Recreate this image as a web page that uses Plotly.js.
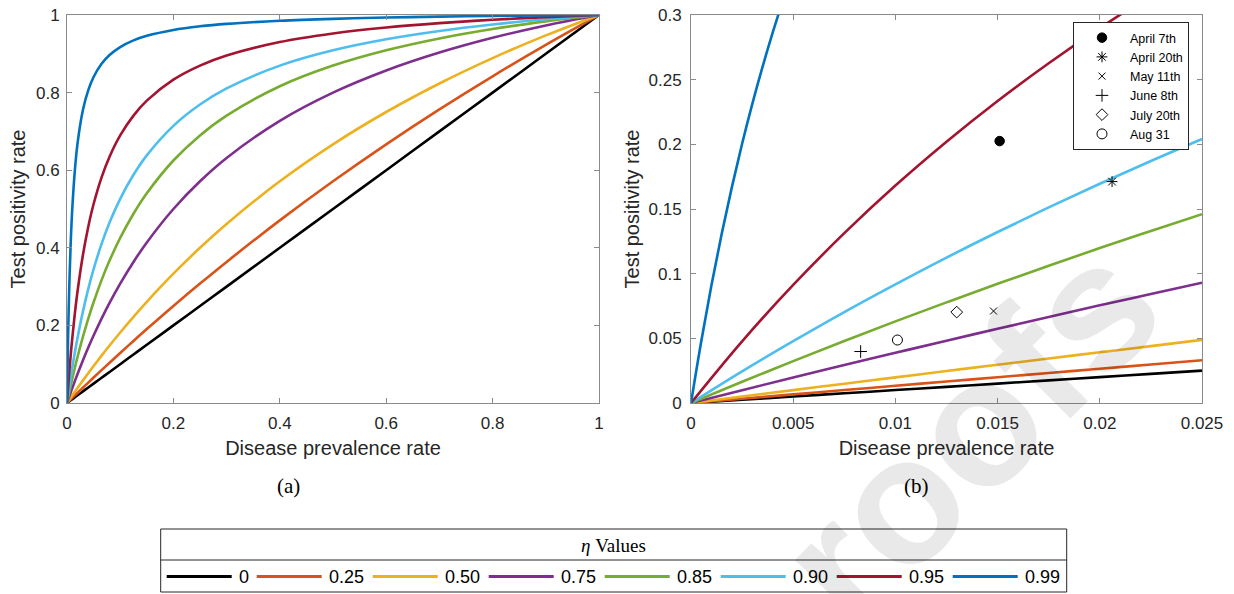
<!DOCTYPE html>
<html><head><meta charset="utf-8">
<script src="https://cdn.plot.ly/plotly-3.0.1.min.js"></script>
<style>html,body{margin:0;padding:0;background:#fff}#chart{width:1234px;height:594px}</style>
</head><body><div id="chart"></div>
<script>
// ---------- data ----------
const etaLabels = ['0', '0.25', '0.50', '0.75', '0.85', '0.90', '0.95', '0.99'];
const etaColors = ['#000000', '#D95319', '#EDB120', '#7E2F8E', '#77AC30', '#4DBEEE', '#A2142F', '#0072BD'];

// panel (a): prevalence 0..1
const prevA = [0, 0.002, 0.004, 0.007, 0.01, 0.015, 0.02, 0.03, 0.04, 0.05, 0.065, 0.08, 0.1, 0.125, 0.15, 0.2, 0.25, 0.3, 0.4, 0.5, 0.6, 0.7, 0.8, 0.9, 1];
const tprA_000 = [0, 0.002, 0.004, 0.007, 0.01, 0.015, 0.02, 0.03, 0.04, 0.05, 0.065, 0.08, 0.1, 0.125, 0.15, 0.2, 0.25, 0.3, 0.4, 0.5, 0.6, 0.7, 0.8, 0.9, 1];
const tprA_025 = [0, 0.0027, 0.0053, 0.0093, 0.0133, 0.0199, 0.0265, 0.0396, 0.0526, 0.0656, 0.0848, 0.1039, 0.129, 0.16, 0.1905, 0.25, 0.3077, 0.3636, 0.4706, 0.5714, 0.6667, 0.7568, 0.8421, 0.9231, 1];
const tprA_050 = [0, 0.004, 0.008, 0.0139, 0.0198, 0.0296, 0.0392, 0.0583, 0.0769, 0.0952, 0.1221, 0.1481, 0.1818, 0.2222, 0.2609, 0.3333, 0.4, 0.4615, 0.5714, 0.6667, 0.75, 0.8235, 0.8889, 0.9474, 1];
const tprA_075 = [0, 0.008, 0.0158, 0.0274, 0.0388, 0.0574, 0.0755, 0.1101, 0.1429, 0.1739, 0.2176, 0.2581, 0.3077, 0.3636, 0.4138, 0.5, 0.5714, 0.6316, 0.7273, 0.8, 0.8571, 0.9032, 0.9412, 0.973, 1];
const tprA_085 = [0, 0.0132, 0.0261, 0.0449, 0.0631, 0.0922, 0.1198, 0.1709, 0.2174, 0.2597, 0.3167, 0.367, 0.4255, 0.4878, 0.5405, 0.625, 0.6897, 0.7407, 0.8163, 0.8696, 0.9091, 0.9396, 0.9639, 0.9836, 1];
const tprA_090 = [0, 0.0197, 0.0386, 0.0659, 0.0917, 0.1322, 0.1695, 0.2362, 0.2941, 0.3448, 0.4101, 0.4651, 0.5263, 0.5882, 0.6383, 0.7143, 0.7692, 0.8108, 0.8696, 0.9091, 0.9375, 0.9589, 0.9756, 0.989, 1];
const tprA_095 = [0, 0.0385, 0.0743, 0.1236, 0.1681, 0.2335, 0.2899, 0.3822, 0.4545, 0.5128, 0.5817, 0.6349, 0.6897, 0.7407, 0.7792, 0.8333, 0.8696, 0.8955, 0.9302, 0.9524, 0.9677, 0.979, 0.9877, 0.9945, 1];
const tprA_099 = [0, 0.1669, 0.2865, 0.4135, 0.5025, 0.6036, 0.6711, 0.7557, 0.8065, 0.8403, 0.8742, 0.8969, 0.9174, 0.9346, 0.9464, 0.9615, 0.9709, 0.9772, 0.9852, 0.9901, 0.9934, 0.9957, 0.9975, 0.9989, 1];

// panel (b): prevalence 0..0.025
const prevB = [0, 0.0025, 0.005, 0.0075, 0.01, 0.0125, 0.015, 0.0175, 0.02, 0.0225, 0.025];
const prevB99 = [0, 0.0005, 0.001, 0.0015, 0.002, 0.0025, 0.003, 0.0035, 0.004, 0.0045, 0.005];
const tprB_000 = [0, 0.0025, 0.005, 0.0075, 0.01, 0.0125, 0.015, 0.0175, 0.02, 0.0225, 0.025];
const tprB_025 = [0, 0.0033, 0.0067, 0.01, 0.0133, 0.0166, 0.0199, 0.0232, 0.0265, 0.0298, 0.0331];
const tprB_050 = [0, 0.005, 0.00995, 0.0149, 0.0198, 0.0247, 0.0296, 0.0344, 0.0392, 0.044, 0.0488];
const tprB_075 = [0, 0.0099, 0.0197, 0.0293, 0.0388, 0.0482, 0.0574, 0.0665, 0.0755, 0.0843, 0.093];
const tprB_085 = [0, 0.0164, 0.0324, 0.048, 0.0631, 0.0778, 0.0922, 0.1061, 0.1198, 0.133, 0.146];
const tprB_090 = [0, 0.0245, 0.0478, 0.0703, 0.0917, 0.1124, 0.1322, 0.1512, 0.1695, 0.1871, 0.2041];
const tprB_095 = [0, 0.0477, 0.0913, 0.1313, 0.1681, 0.202, 0.2335, 0.2627, 0.2899, 0.3152, 0.339];
const tprB_099 = [0, 0.0476, 0.091, 0.1306, 0.1669, 0.2004, 0.2313, 0.2599, 0.2865, 0.3113, 0.3344];

// observed points (panel b)
const dateLabels = ['April 7th', 'April 20th', 'May 11th', 'June 8th', 'July 20th', 'Aug 31'];
const dateX = [0.0151, 0.0206, 0.0148, 0.0083, 0.0130, 0.0101];
const dateY = [0.2025, 0.1712, 0.0711, 0.0398, 0.0703, 0.0487];

// tick labels
const tickA = ['0', '0.2', '0.4', '0.6', '0.8', '1'];
const tickBx = ['0', '0.005', '0.01', '0.015', '0.02', '0.025'];
const tickBy = ['0', '0.05', '0.1', '0.15', '0.2', '0.25', '0.3'];

// ---------- figure ----------
const W = 1234, H = 594, ML = 67, MR = 32, MT = 15, MB = 191;
const PW = W - ML - MR, PH = H - MT - MB;
const px2x = p => (p - ML) / PW;
const py2y = p => (H - MB - p) / PH;

const tprA = [tprA_000, tprA_025, tprA_050, tprA_075, tprA_085, tprA_090, tprA_095, tprA_099];
const tprB = [tprB_000, tprB_025, tprB_050, tprB_075, tprB_085, tprB_090, tprB_095, tprB_099];

const sans = 'Liberation Sans, Arial, Helvetica, sans-serif';
const serif = 'Liberation Serif, Times New Roman, serif';
const traces = [];
etaLabels.forEach((lab, i) => {
  traces.push({x: prevA, y: tprA[i], xaxis: 'x', yaxis: 'y', mode: 'lines', name: 'η = ' + lab,
    line: {color: etaColors[i], width: 2.6, shape: 'spline', smoothing: 1}, showlegend: false, hoverinfo: 'x+y'});
});
etaLabels.forEach((lab, i) => {
  traces.push({x: i === 7 ? prevB99 : prevB, y: tprB[i], xaxis: 'x2', yaxis: 'y2', mode: 'lines', name: 'η = ' + lab,
    line: {color: etaColors[i], width: 2.6, shape: 'spline', smoothing: 1}, showlegend: false, hoverinfo: 'x+y'});
});
const dateSymbols = ['circle', 'asterisk-open', 'x-thin-open', 'cross-thin-open', 'diamond-open', 'circle-open'];
const dateSizes = [9.5, 9, 7, 9, 9, 10];
dateLabels.forEach((lab, i) => {
  traces.push({x: [dateX[i]], y: [dateY[i]], xaxis: 'x2', yaxis: 'y2', mode: 'markers', name: lab,
    legend: 'legend2', marker: {symbol: dateSymbols[i], size: dateSizes[i], color: '#000', line: {color: '#000', width: 1}}});
});

const axBase = {showgrid: false, zeroline: false, showline: true, linecolor: '#8a8a8a', linewidth: 1,
  mirror: 'ticks', ticks: 'inside', ticklen: 5, tickwidth: 1, tickcolor: '#8a8a8a',
  tickfont: {family: sans, size: 17, color: '#262626'}, fixedrange: true, tickmode: 'array'};
const ttl = t => ({text: t, font: {family: sans, size: 20, color: '#262626'}});

const shapes = [], annotations = [];
// watermark (drawn first so other texts sit over it)
annotations.push({xref: 'paper', yref: 'paper', x: px2x(968), y: py2y(432), xanchor: 'center', yanchor: 'middle',
  text: '<b>roofs</b>', showarrow: false, textangle: -45, font: {family: sans, size: 180, color: 'rgba(0,0,0,0.085)'}});
// bottom legend box
const bx0 = 160.7, bx1 = 1066.7, by0 = 529, by1 = 592, bsep = 560;
shapes.push({type: 'rect', xref: 'paper', yref: 'paper', x0: px2x(bx0), x1: px2x(bx1), y0: py2y(by0), y1: py2y(by1),
  line: {color: '#262626', width: 1}, fillcolor: 'rgba(255,255,255,0)', layer: 'above'});
shapes.push({type: 'line', xref: 'paper', yref: 'paper', x0: px2x(bx0), x1: px2x(bx1), y0: py2y(bsep), y1: py2y(bsep),
  line: {color: '#262626', width: 1}, layer: 'above'});
annotations.push({xref: 'paper', yref: 'paper', x: px2x((bx0 + bx1) / 2), y: py2y(545.5), text: '<i>η</i> Values',
  showarrow: false, xanchor: 'center', yanchor: 'middle', font: {family: serif, size: 19, color: '#000'}});
etaLabels.forEach((lab, i) => {
  const lx0 = i === 0 ? 166.7 : 256.7 + 116 * (i - 1), lx1 = lx0 + 65, ly = 576.5;
  shapes.push({type: 'line', xref: 'paper', yref: 'paper', x0: px2x(lx0), x1: px2x(lx1), y0: py2y(ly), y1: py2y(ly),
    line: {color: etaColors[i], width: 3.2}, layer: 'above'});
  annotations.push({xref: 'paper', yref: 'paper', x: px2x(lx1 + 5), y: py2y(ly), text: lab, showarrow: false,
    xanchor: 'left', yanchor: 'middle', font: {family: sans, size: 18, color: '#000'}});
});
// captions
annotations.push({xref: 'paper', yref: 'paper', x: px2x(288), y: py2y(486), xanchor: 'center', yanchor: 'middle',
  text: '(a)', showarrow: false, font: {family: serif, size: 21, color: '#000'}});
annotations.push({xref: 'paper', yref: 'paper', x: px2x(916), y: py2y(486), xanchor: 'center', yanchor: 'middle',
  text: '(b)', showarrow: false, font: {family: serif, size: 21, color: '#000'}});

const layout = {
  width: W, height: H, margin: {l: ML, r: MR, t: MT, b: MB, pad: 0},
  paper_bgcolor: '#fff', plot_bgcolor: '#fff', showlegend: true,
  xaxis: Object.assign({}, axBase, {domain: [0, px2x(599)], range: [0, 1], tickvals: [0, 0.2, 0.4, 0.6, 0.8, 1], ticktext: tickA,
    ticklabelstandoff: 5, title: Object.assign(ttl('Disease prevalence rate'), {standoff: 8})}),
  yaxis: Object.assign({}, axBase, {domain: [0, 1], range: [0, 1], tickvals: [0, 0.2, 0.4, 0.6, 0.8, 1], ticktext: tickA,
    ticklabelstandoff: 3, title: Object.assign(ttl('Test positivity rate'), {standoff: 4})}),
  xaxis2: Object.assign({}, axBase, {domain: [px2x(691), 1], range: [0, 0.025], anchor: 'y2',
    tickvals: [0, 0.005, 0.01, 0.015, 0.02, 0.025], ticktext: tickBx,
    ticklabelstandoff: 5, title: Object.assign(ttl('Disease prevalence rate'), {standoff: 8})}),
  yaxis2: Object.assign({}, axBase, {domain: [0, 1], range: [0, 0.3], anchor: 'x2',
    tickvals: [0, 0.05, 0.1, 0.15, 0.2, 0.25, 0.3], ticktext: tickBy,
    ticklabelstandoff: 5, title: Object.assign(ttl('Test positivity rate'), {standoff: 3})}),
  legend2: {x: px2x(1073), xanchor: 'left', y: py2y(22), yanchor: 'top', bgcolor: '#fff',
    bordercolor: '#262626', borderwidth: 1, font: {family: sans, size: 12.5, color: '#000'}, itemwidth: 46, tracegroupgap: 0},
  shapes: shapes, annotations: annotations
};

Plotly.newPlot('chart', traces, layout, {displayModeBar: false});
</script></body></html>
